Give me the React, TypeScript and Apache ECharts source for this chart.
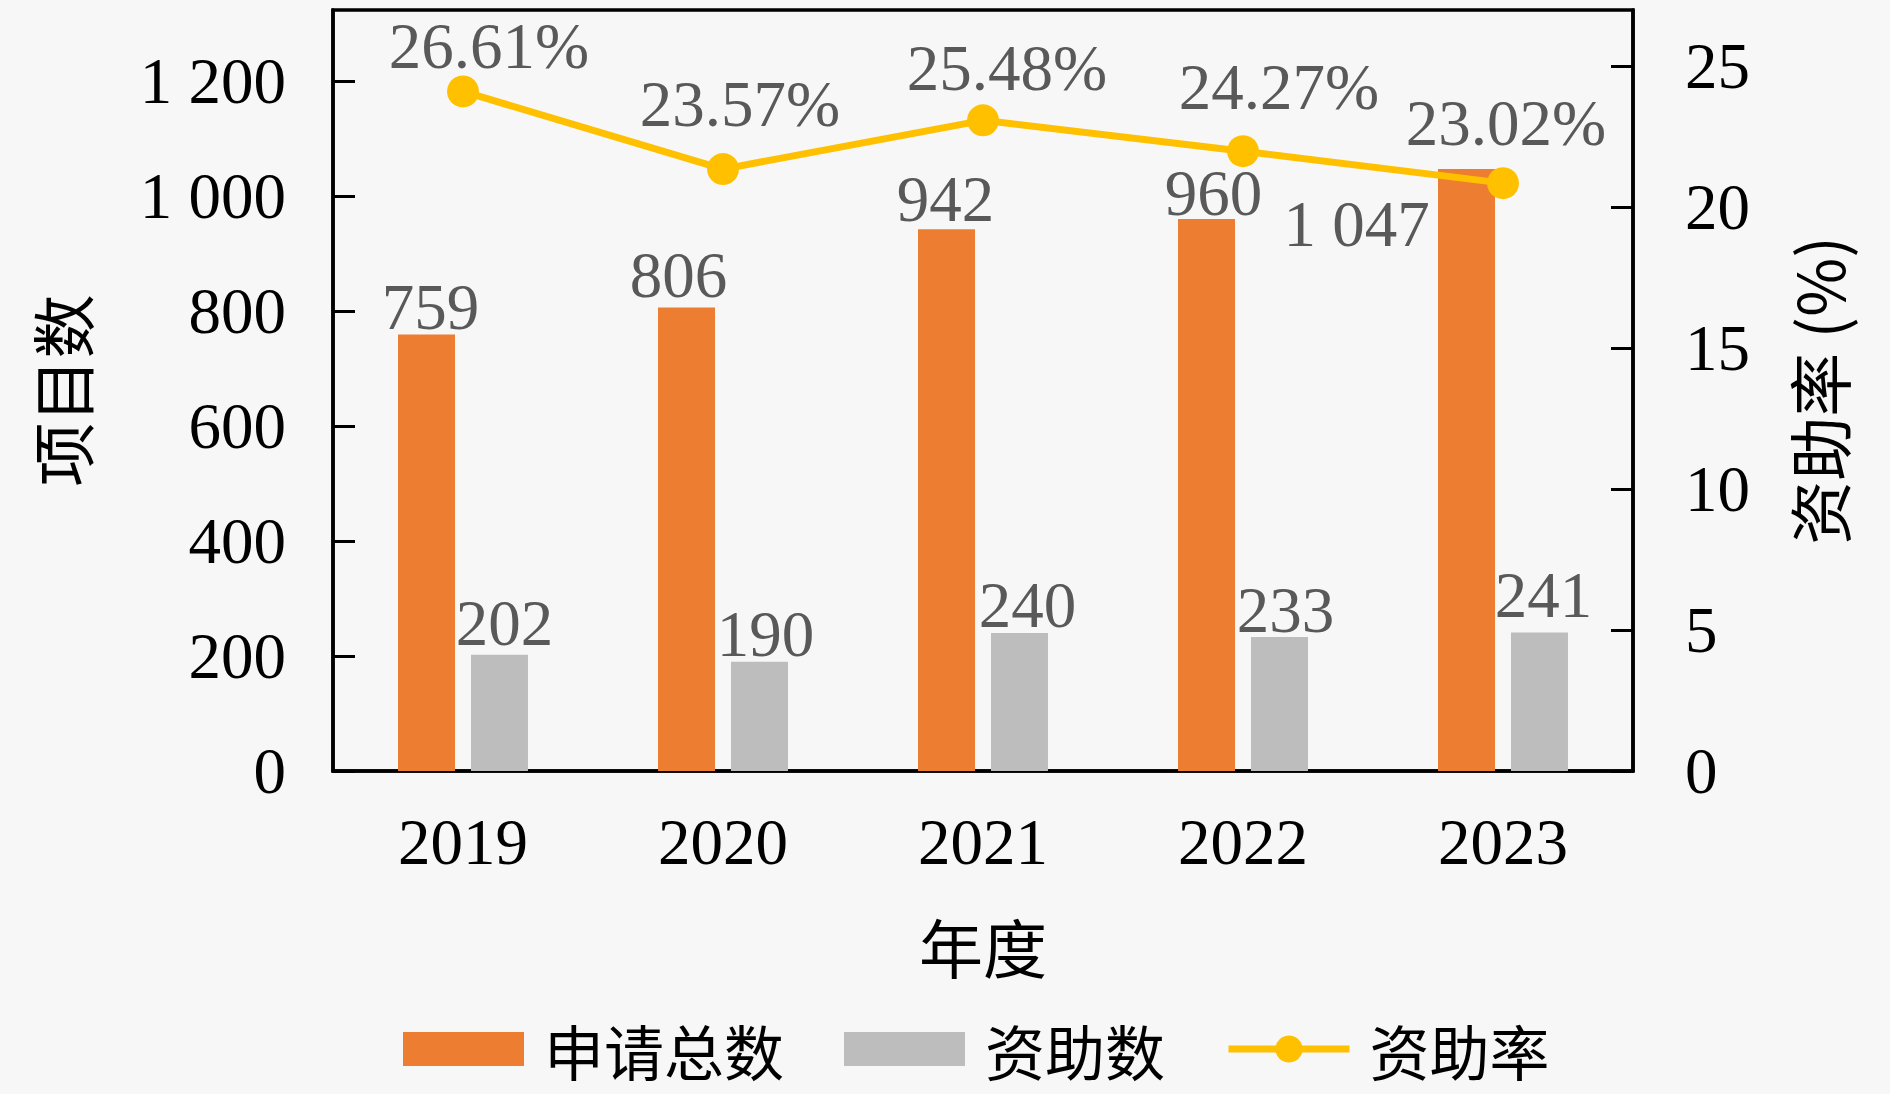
import React, { useEffect, useRef } from "react";
import * as echarts from "echarts";

const years = ["2019", "2020", "2021", "2022", "2023"];
const applications = [759, 806, 942, 960, 1047];
const funded = [202, 190, 240, 233, 241];
const fundingRate = [26.61, 23.57, 25.48, 24.27, 23.02];

const appLabelOffsets = [[4, 5], [-8, 0], [-1, 2], [7, 6], [-110, 88]];
const fundLabelOffsets = [[5, 1], [6, 5], [8, 4], [6, 5], [4, -5]];
const rateLabelOffsets = [[26, 3], [17, -17], [24, -4], [36, -16], [3, -12]];

const FONT = "'Liberation Serif', 'DejaVu Serif', 'Noto Sans CJK SC', serif";
const CJK = "'Noto Sans CJK SC', 'Liberation Serif', serif";
const NUM_SIZE = 65;
const CJK_SIZE = 64;
const LEGEND_SIZE = 60;

const fmtThousands = (v: number) => {
  const s = String(Math.round(v));
  return s.length > 3 ? s.slice(0, s.length - 3) + " " + s.slice(-3) : s;
};

export default function App() {
  const ref = useRef<HTMLDivElement>(null);
  useEffect(() => {
    document.body.style.margin = "0";
    const chart = echarts.init(ref.current!, undefined, { renderer: "svg" });
    const labelColor = "#595959";
    chart.setOption({
      animation: false,
      backgroundColor: "#f7f7f7",
      grid: {
        left: 333,
        right: 257,
        top: 10,
        bottom: 323,
        show: true,
        borderColor: "#000",
        borderWidth: 3.5,
        backgroundColor: "transparent",
      },
      legend: {
        top: 1018,
        left: 403,
        padding: 0,
        itemWidth: 121,
        itemHeight: 34,
        itemGap: 60,
        textStyle: {
          fontSize: LEGEND_SIZE,
          lineHeight: 62,
          fontFamily: CJK,
          color: "#000",
          padding: [0, 0, 0, 15],
        },
        data: [
          { name: "申请总数", icon: "rect" },
          { name: "资助数", icon: "rect" },
          { name: "资助率", lineStyle: { width: 7 } },
        ],
      },
      xAxis: {
        type: "category",
        data: years,
        name: "年度",
        nameLocation: "middle",
        nameGap: 142,
        nameTextStyle: { fontSize: CJK_SIZE, fontFamily: CJK, color: "#000" },
        axisLine: { lineStyle: { color: "#000", width: 3.5 } },
        axisTick: { inside: true, length: 18, lineStyle: { color: "#000", width: 3 } },
        axisLabel: { fontSize: NUM_SIZE, fontFamily: FONT, color: "#000", margin: 38 },
      },
      yAxis: [
        {
          type: "value",
          min: 0,
          max: 1323.5,
          interval: 200,
          name: "项目数",
          nameLocation: "middle",
          nameRotate: 90,
          nameGap: 241,
          nameTextStyle: { fontSize: CJK_SIZE, fontFamily: CJK, color: "#000" },
          axisLine: { show: true, lineStyle: { color: "#000", width: 3.5 } },
          axisTick: { show: true, inside: true, length: 22, lineStyle: { color: "#000", width: 3 } },
          axisLabel: {
            fontSize: NUM_SIZE,
            fontFamily: FONT,
            color: "#000",
            margin: 47,
            showMaxLabel: false,
            formatter: fmtThousands,
          },
          splitLine: { show: false },
        },
        {
          type: "value",
          position: "right",
          min: 0,
          max: 27,
          interval: 5,
          name: "资助率 (%)",
          nameLocation: "middle",
          nameRotate: 90,
          nameGap: 152,
          nameTextStyle: { fontSize: CJK_SIZE, fontFamily: CJK, color: "#000" },
          axisLine: { show: true, lineStyle: { color: "#000", width: 3.5 } },
          axisTick: { show: true, inside: true, length: 22, lineStyle: { color: "#000", width: 3 } },
          axisLabel: { fontSize: NUM_SIZE, fontFamily: FONT, color: "#000", margin: 52, showMaxLabel: false },
          splitLine: { show: false },
        },
        {
          type: "value",
          show: false,
          min: 0,
          max: 29.8,
          position: "right",
          splitLine: { show: false },
        },
      ],
      series: [
        {
          name: "申请总数",
          type: "bar",
          yAxisIndex: 0,
          barWidth: 57,
          barGap: "28%",
          itemStyle: { color: "#ED7D31" },
          data: applications.map((v, i) => ({
            value: v,
            label: { offset: appLabelOffsets[i] },
          })),
          label: {
            show: true,
            position: "top",
            distance: 0,
            fontSize: NUM_SIZE,
            fontFamily: FONT,
            color: labelColor,
            formatter: (p: any) => fmtThousands(p.value),
          },
        },
        {
          name: "资助数",
          type: "bar",
          yAxisIndex: 0,
          barWidth: 57,
          barGap: "28%",
          itemStyle: { color: "#BDBDBD" },
          data: funded.map((v, i) => ({
            value: v,
            label: { offset: fundLabelOffsets[i] },
          })),
          label: {
            show: true,
            position: "top",
            distance: 0,
            fontSize: NUM_SIZE,
            fontFamily: FONT,
            color: labelColor,
          },
        },
        {
          name: "资助率",
          type: "line",
          yAxisIndex: 2,
          symbol: "circle",
          symbolSize: 32,
          lineStyle: { color: "#FFC000", width: 7 },
          itemStyle: { color: "#FFC000" },
          data: fundingRate.map((v, i) => ({
            value: v,
            label: { offset: rateLabelOffsets[i] },
          })),
          label: {
            show: true,
            position: "top",
            distance: 0,
            fontSize: NUM_SIZE,
            fontFamily: FONT,
            color: labelColor,
            formatter: (p: any) => p.value.toFixed(2) + "%",
          },
        },
      ],
    });
    return () => chart.dispose();
  }, []);
  return <div ref={ref} style={{ width: 1890, height: 1094 }} />;
}
